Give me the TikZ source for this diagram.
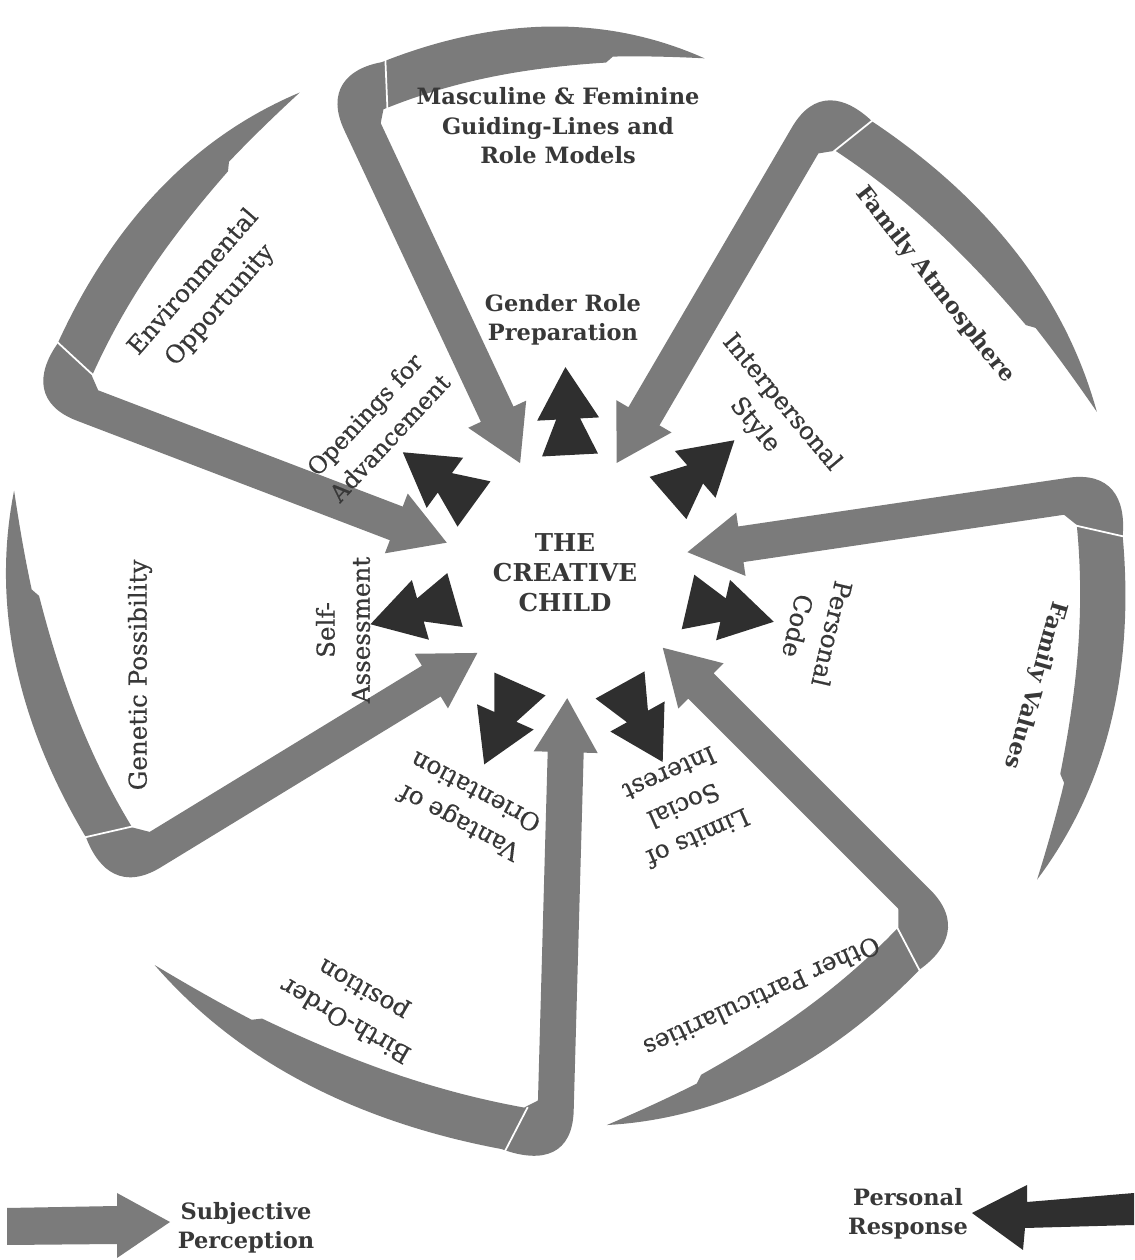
\documentclass[tikz,border=0pt]{standalone}
\usepackage{fontspec}
\setmainfont{DejaVu Serif}
\newfontfamily\medserif{DejaVu Serif}[FakeBold=0.5]
\usepackage{tikz}
\usetikzlibrary{calc}

\definecolor{perceptgray}{HTML}{7B7B7B}
\definecolor{responsedark}{HTML}{2F2F2F}
\definecolor{labelink}{HTML}{383838}

\tikzstyle{percept}=[fill=perceptgray]
\tikzstyle{respond}=[fill=responsedark]
\tikzstyle{crease}=[draw=white, line width=1pt]
\tikzstyle{lbl}=[text=labelink, align=center, inner sep=0pt,
                 font=\medserif\fontsize{14}{20}\selectfont]
\tikzstyle{blbl}=[lbl, font=\fontsize{12.8}{16.8}\selectfont\bfseries]

% grey boomerang: corner, turn of shaft, shaft length, tail angle, tail length
\newcommand{\perceptarrow}[5]{%
  \begin{scope}[shift={(#1)}, rotate=#2]
    \fill[percept] (#3,0) -- (#3-54,32) -- (#3-54,18) -- (34,18)
      -- plot[variable=\t, domain=0.09:1, samples=44]
         ({\t*#5*cos(#4)-(120*\t*(1-\t)-23*(1-\t^4)*(1-0.35*(\t>0.74)))*sin(#4)},
          {\t*#5*sin(#4)+(120*\t*(1-\t)-23*(1-\t^4)*(1-0.35*(\t>0.74)))*cos(#4)})
      -- plot[variable=\t, domain=1:0.1, samples=44]
         ({\t*#5*cos(#4)-(120*\t*(1-\t)+23*(1-\t^4))*sin(#4)},
          {\t*#5*sin(#4)+(120*\t*(1-\t)+23*(1-\t^4))*cos(#4)})
      .. controls (-30,10) and (-18,-18) .. (25,-18)
      -- (#3-54,-18) -- (#3-54,-32) -- cycle;
    \draw[crease] ({36*cos(#4)+15*sin(#4)},{36*sin(#4)-15*cos(#4)})
      -- ({40*cos(#4)-38*sin(#4)},{40*sin(#4)+38*cos(#4)});
  \end{scope}}

% dark double head: rear point, direction
\newcommand{\respondarrow}[2]{%
  \begin{scope}[shift={(#1)}, rotate=#2]
    \fill[respond] (88,0) -- (36,31) -- (36,12) -- (0,28) -- (0,-28)
      -- (36,-12) -- (36,-31) -- cycle;
  \end{scope}}

\begin{document}
\begin{tikzpicture}[x=0.02cm, y=0.02cm]
\useasboundingbox (0,0) rectangle (1134,1260);

% corners of the grey arrows
\coordinate (kMasc) at (350,1160);
\coordinate (kAtm) at (820,1145);
\coordinate (kVal) at (1095,768);
\coordinate (kOther) at (935,340);
\coordinate (kBirth) at (555,125);
\coordinate (kGen) at (130,395);
\coordinate (kEnv) at (60,865);

\perceptarrow{kMasc}{-64.9}{401}{71.6}{357}
\perceptarrow{kAtm}{-120.3}{403}{73.3}{406}
\perceptarrow{kVal}{188.4}{412}{73.1}{392}
\perceptarrow{kOther}{135}{385}{77}{387}
\perceptarrow{kBirth}{88.4}{437}{68.6}{435}
\perceptarrow{kGen}{31.4}{407}{75.8}{392}
\perceptarrow{kEnv}{-20.9}{414}{72.5}{386}

% personal responses
\coordinate (rGender) at (570,805);
\coordinate (rOpen) at (474,756);
\coordinate (rInter) at (668,762);
\coordinate (rSelf) at (455,660);
\coordinate (rCode) at (688,658);
\coordinate (rVant) at (520,576);
\coordinate (rLimit) at (620,575);

\respondarrow{rGender}{93}
\respondarrow{rOpen}{144}
\respondarrow{rInter}{41}
\respondarrow{rSelf}{196}
\respondarrow{rCode}{-13}
\respondarrow{rVant}{246}
\respondarrow{rLimit}{-61}

\node[blbl, font=\fontsize{14}{17}\selectfont\bfseries] (child) at (565,687)
  {THE\\CREATIVE\\CHILD};

\node[blbl] (masc) at (558,1134) {Masculine \& Feminine\\Guiding-Lines and\\Role Models};
\node[blbl] (gender) at (563,940) {Gender Role\\Preparation};
\node[lbl, rotate=49] (env) at (207,966) {Environmental\\Opportunity};
\node[lbl, rotate=47, font=\medserif\fontsize{13.5}{19.5}\selectfont] (open) at (377,834)
  {Openings for\\Advancement};
\node[blbl, rotate=-52] (atm) at (935,975) {Family Atmosphere};
\node[lbl, rotate=-50] (inter) at (768,846) {Interpersonal\\Style};
\node[blbl, rotate=-106] (val) at (1035,575) {Family Values};
\node[lbl, rotate=-103] (code) at (815,630) {Personal\\Code};
\node[lbl, rotate=90] (self) at (343,630) {Self-\\Assessment};
\node[lbl, rotate=90] (gen) at (140,585) {Genetic Possibility};
\node[lbl, rotate=152] (vant) at (467,452) {Vantage of\\Orientation};
\node[lbl, rotate=204] (limit) at (684,454) {Limits of\\Social\\Interest};
\node[lbl, rotate=150] (birth) at (355,256) {Birth-Order\\position};
\node[lbl, rotate=204.5] (other) at (762,263) {Other Particularities};

% legend
\coordinate (lgPercept) at (0,0);
\coordinate (lgRespond) at (1134,0);
\fill[percept] ($(lgPercept)+(7,52)$) -- ($(lgPercept)+(117,54)$) -- ($(lgPercept)+(117,67)$)
  -- ($(lgPercept)+(170,38)$) -- ($(lgPercept)+(117,2)$) -- ($(lgPercept)+(117,16)$)
  -- ($(lgPercept)+(7,15)$) -- cycle;
\fill[respond] ($(lgRespond)+(-162,47)$) -- ($(lgRespond)+(-107,75)$) -- ($(lgRespond)+(-107,58)$)
  -- ($(lgRespond)+(0,67)$) -- ($(lgRespond)+(0,35)$) -- ($(lgRespond)+(-109,32)$)
  -- ($(lgRespond)+(-111,10)$) -- cycle;
\node[blbl] (subj) at (246,32) {Subjective\\Perception};
\node[blbl] (pers) at (908,46) {Personal\\Response};
\end{tikzpicture}
\end{document}
